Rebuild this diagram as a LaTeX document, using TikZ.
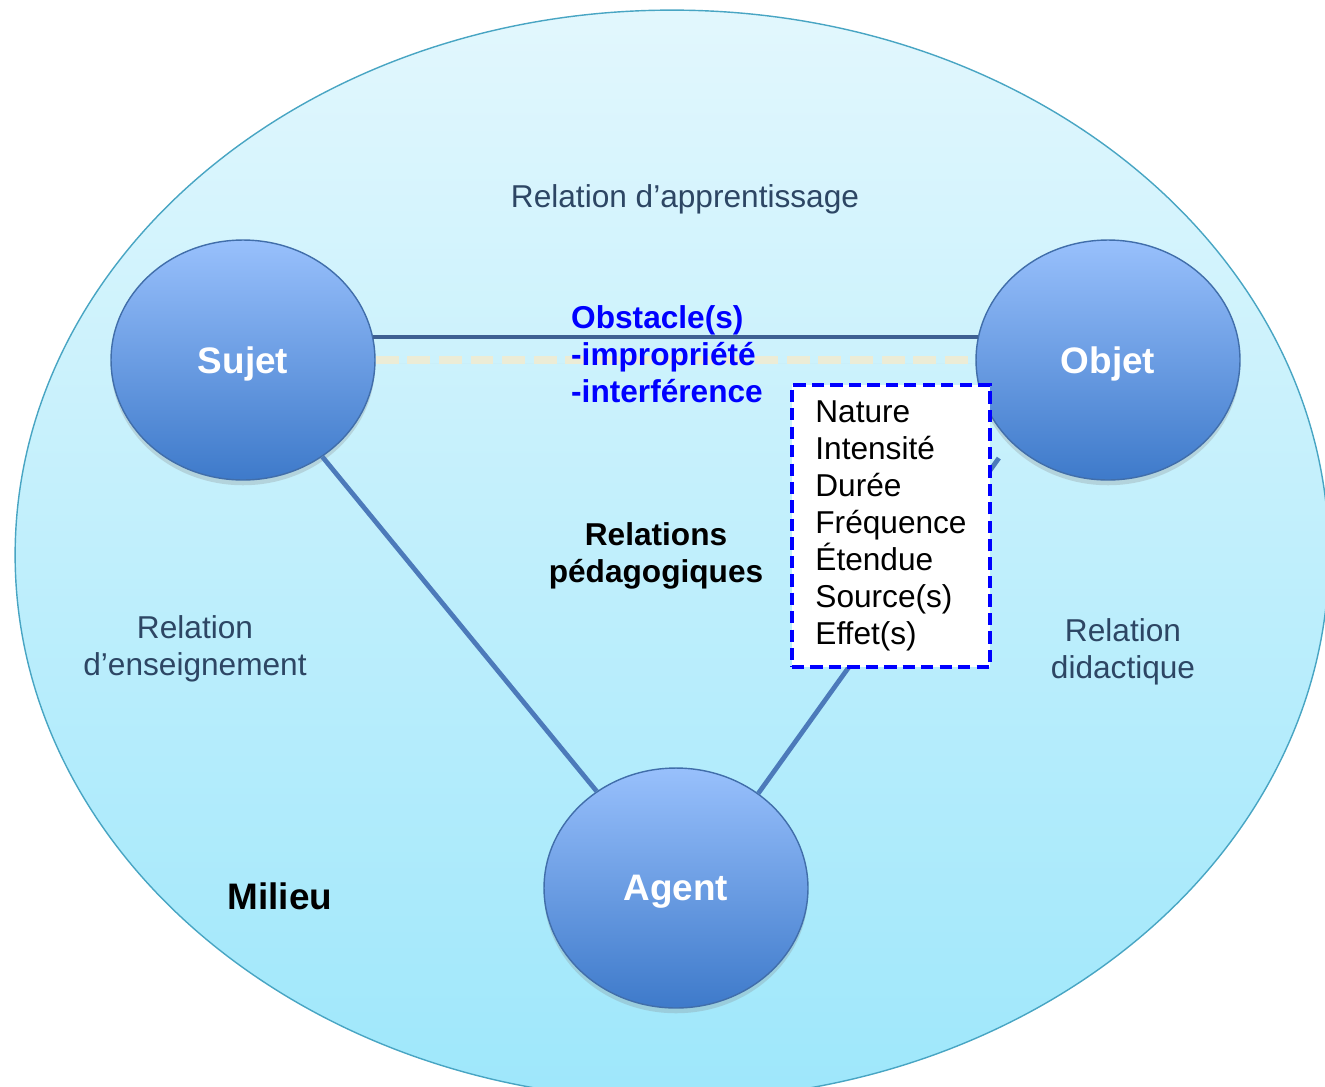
\documentclass[tikz,border=0pt]{standalone}
\usepackage{fontspec}
\setmainfont{Liberation Sans}
\usetikzlibrary{shapes.geometric,shadows}

\definecolor{milieutop}{RGB}{226,247,253}
\definecolor{milieubot}{RGB}{158,231,251}
\definecolor{milieuedge}{RGB}{72,165,195}
\definecolor{poletop}{RGB}{152,192,252}
\definecolor{polebot}{RGB}{62,122,202}
\definecolor{poleedge}{RGB}{65,110,170}
\definecolor{lienbleu}{RGB}{76,122,186}
\definecolor{liensombre}{RGB}{62,96,146}
\definecolor{creme}{RGB}{236,236,214}
\definecolor{ardoise}{RGB}{45,70,100}

\tikzset{
	pole/.style={ellipse, minimum width=5.28cm, minimum height=4.8cm, inner sep=0pt,
		draw=poleedge, thick, top color=poletop, bottom color=polebot, text=white,
		text depth=0pt, font=\fontsize{21}{25}\selectfont\bfseries,
		drop shadow={opacity=0.25, shadow xshift=0pt, shadow yshift=-3pt}},
	lien/.style={line width=2.7pt, color=lienbleu},
	relation/.style={align=center, text=ardoise, font=\fontsize{18}{21}\selectfont},
	gras/.style={align=center, font=\fontsize{18}{21}\selectfont\bfseries},
	obstacle/.style={align=left, text=blue, font=\fontsize{18}{21}\selectfont\bfseries},
	facteurs/.style={draw=blue, line width=2.3pt, dash pattern=on 7pt off 3.5pt, fill=white,
		minimum width=3.96cm, minimum height=5.64cm, align=left, font=\fontsize{18}{21}\selectfont}
}

\begin{document}
\begin{tikzpicture}[x=0.02cm, y=-0.02cm]
	\useasboundingbox (0,0) rectangle (1325,1086);
	\begin{scope}
		\clip (0,0) rectangle (1325,1086);
		\shade[top color=milieutop, bottom color=milieubot] (672,555) ellipse [x radius=13.14cm, y radius=10.9cm];
		\draw[milieuedge, thick] (672,555) ellipse [x radius=13.14cm, y radius=10.9cm];
	\end{scope}
	
	\node[relation] (apprentissage) at (685,199) {Relation d’apprentissage};
	\node[relation] (enseignement) at (195,649) {Relation\\d’enseignement};
	\node[relation] (didactique) at (1123,652) {Relation\\didactique};
	\node[gras] (milieu) at (280,896) {\fontsize{21}{25}\selectfont Milieu};
	\node[gras] (pedagogiques) at (656,556) {Relations\\pédagogiques};
	
	\node[pole] (sujet) at (243,360) {Sujet};
	\node[pole] (objet) at (1108,360) {Objet};
	\node[pole] (agent) at (676,888) {Agent};
	
	\draw[line width=1.8pt, color=liensombre] (sujet.10) -- (objet.170);
	\draw[line width=4pt, color=creme, dash pattern=on 13pt off 5pt,
	drop shadow={opacity=0.2, shadow xshift=0pt, shadow yshift=-2pt}] (sujet.east) -- (objet.west);
	\draw[lien] (sujet) -- (agent);
	\draw[lien, shorten <=0.4cm] (objet.220) -- (agent.49);
	
	\node[obstacle, anchor=west] (obstacle) at (565,354) {Obstacle(s)\\-impropriété\\-interférence};
	\node[facteurs] (facteurs) at (891,526) {Nature\\Intensité\\Durée\\Fréquence\\Étendue\\Source(s)\\Effet(s)};
\end{tikzpicture}
\end{document}
